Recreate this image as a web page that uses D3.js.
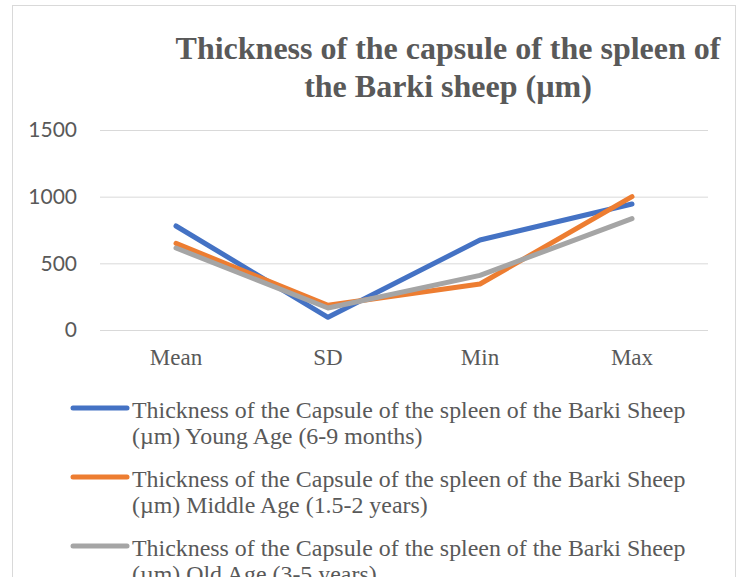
<!DOCTYPE html>
<html>
<head>
<meta charset="utf-8">
<script src="https://cdn.jsdelivr.net/npm/d3@7"></script>
<style>
  body { margin: 0; background: #fff; }
  svg { display: block; }
</style>
</head>
<body>
<svg width="740" height="577"></svg>
<script>
// chart values
var categories = ["Mean", "SD", "Min", "Max"];
var yTicks = [0, 500, 1000, 1500];
var seriesNames = [
  ["Thickness of the Capsule of the spleen of the Barki Sheep", "(\u00b5m) Young Age (6-9 months)"],
  ["Thickness of the Capsule of the spleen of the Barki Sheep", "(\u00b5m) Middle Age (1.5-2 years)"],
  ["Thickness of the Capsule of the spleen of the Barki Sheep", "(\u00b5m) Old Age (3-5 years)"]
];
var youngAge = [780, 95, 675, 945];
var middleAge = [650, 185, 345, 1000];
var oldAge = [615, 165, 410, 835];
var colors = ["#4472C4", "#ED7D31", "#A5A5A5"];

var series = [youngAge, middleAge, oldAge];

var svg = d3.select("svg"),
    margin = {top: 130, left: 100, right: 32},
    plotW = 608,
    plotH = 200,
    serif = "'Liberation Serif', 'Times New Roman', serif";

// outer frame
svg.append("rect")
    .attr("x", 12.5).attr("y", 5.5)
    .attr("width", 723).attr("height", 600)
    .attr("fill", "#fff")
    .attr("stroke", "#D9D9D9")
    .attr("stroke-width", 1);

// title
var title = svg.append("text")
    .attr("text-anchor", "middle")
    .attr("fill", "#595959")
    .style("font-family", serif)
    .style("font-weight", "bold")
    .style("font-size", "32px");
title.append("tspan").attr("x", 448).attr("y", 59).text("Thickness of the capsule of the spleen of");
title.append("tspan").attr("x", 448).attr("y", 97).text("the Barki sheep (\u00b5m)");

var g = svg.append("g").attr("transform", "translate(" + margin.left + "," + margin.top + ")");

var x = d3.scaleBand()
    .domain(categories)
    .range([0, plotW]);

var y = d3.scaleLinear()
    .domain([0, 1500])
    .range([plotH, 0]);

// gridlines + y labels
g.append("g")
    .call(d3.axisLeft(y).tickValues(yTicks).tickFormat(d3.format("d")).tickSize(-plotW).tickPadding(23))
    .call(function(a) {
      a.select(".domain").remove();
      a.selectAll(".tick line").attr("stroke", "#D9D9D9").attr("stroke-width", 1);
      a.selectAll(".tick text")
          .attr("fill", "#595959")
          .style("font-family", "Lato, 'Open Sans', sans-serif")
          .style("font-size", "21px");
    });

// x axis labels
g.append("g")
    .attr("transform", "translate(0," + plotH + ")")
    .call(d3.axisBottom(x).tickSize(0).tickPadding(19))
    .call(function(a) {
      a.select(".domain").remove();
      a.selectAll(".tick text")
          .attr("fill", "#595959")
          .style("font-family", serif)
          .style("font-size", "23px");
    });

var line = d3.line()
    .x(function(d, i) { return x(categories[i]) + x.bandwidth() / 2; })
    .y(function(d) { return y(d); });

g.selectAll(".series")
    .data(series)
  .enter().append("path")
    .attr("class", "series")
    .attr("fill", "none")
    .attr("stroke", function(d, i) { return colors[i]; })
    .attr("stroke-width", 5)
    .attr("stroke-linejoin", "round")
    .attr("stroke-linecap", "round")
    .attr("d", line);

// legend
var legend = svg.append("g");
var rowY = [418, 487, 556];
seriesNames.forEach(function(name, i) {
  var row = legend.append("g").attr("transform", "translate(0," + rowY[i] + ")");
  row.append("line")
      .attr("x1", 73).attr("x2", 127)
      .attr("y1", -10).attr("y2", -10)
      .attr("stroke", colors[i])
      .attr("stroke-width", 5)
      .attr("stroke-linecap", "round");
  var t = row.append("text")
      .attr("fill", "#595959")
      .style("font-family", serif)
      .style("font-size", "23.9px");
  t.append("tspan").attr("x", 132).attr("y", 0).text(name[0]);
  t.append("tspan").attr("x", 132).attr("y", 26).text(name[1]);
});
</script>
</body>
</html>
